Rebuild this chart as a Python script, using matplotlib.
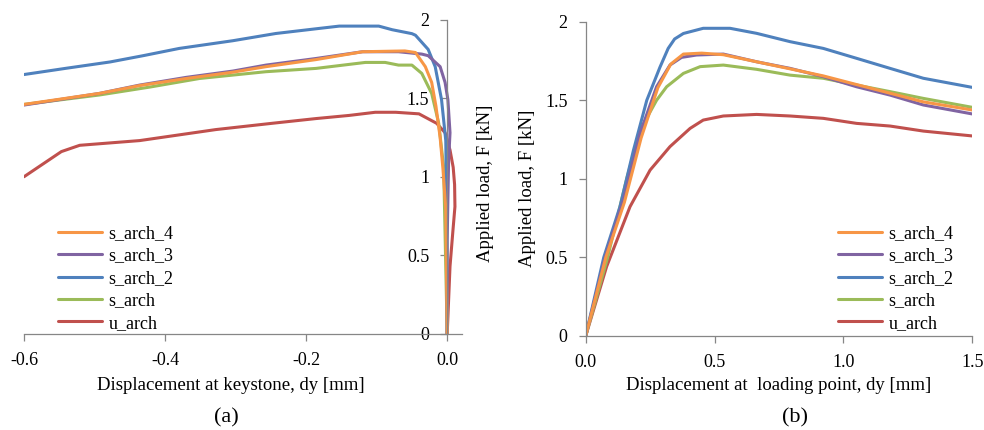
import numpy as np
import matplotlib
matplotlib.use('Agg')
import matplotlib.pyplot as plt

plt.rcParams['font.family'] = ['Liberation Serif', 'DejaVu Serif']

# ---- data: (a) displacement at keystone ----
names = ['s_arch_4', 's_arch_3', 's_arch_2', 's_arch', 'u_arch']
colors = ['#F79646', '#8064A2', '#4F81BD', '#9BBB59', '#C0504D']

a_x_s4 = [0, -0.002, -0.006, -0.01, -0.016, -0.022, -0.031, -0.045, -0.06, -0.12, -0.186, -0.257, -0.304, -0.37, -0.436, -0.493, -0.6]
a_y_s4 = [0, 0.8, 1.05, 1.25, 1.45, 1.60, 1.70, 1.79, 1.80, 1.795, 1.745, 1.70, 1.665, 1.625, 1.58, 1.53, 1.46]

a_x_s3 = [0, 0.0, 0.002, 0.004, 0.001, -0.003, -0.01, -0.027, -0.036, -0.069, -0.12, -0.186, -0.257, -0.304, -0.37, -0.436, -0.493, -0.6]
a_y_s3 = [0, 0.6, 1.1, 1.28, 1.49, 1.60, 1.70, 1.77, 1.78, 1.795, 1.795, 1.752, 1.71, 1.672, 1.632, 1.583, 1.53, 1.456]

a_x_s2 = [0, -0.001, -0.002, -0.008, -0.017, -0.027, -0.045, -0.05, -0.078, -0.097, -0.153, -0.182, -0.243, -0.304, -0.38, -0.431, -0.478, -0.54, -0.6]
a_y_s2 = [0, 0.9, 1.23, 1.49, 1.70, 1.81, 1.90, 1.91, 1.935, 1.958, 1.958, 1.943, 1.911, 1.865, 1.816, 1.77, 1.73, 1.69, 1.65]

a_x_s1 = [0, -0.003, -0.005, -0.012, -0.022, -0.036, -0.05, -0.069, -0.088, -0.116, -0.186, -0.257, -0.351, -0.422, -0.493, -0.6]
a_y_s1 = [0, 0.64, 1.06, 1.34, 1.53, 1.657, 1.71, 1.71, 1.727, 1.727, 1.689, 1.668, 1.625, 1.57, 1.52, 1.46]

a_x_u = [0, 0.004, 0.008, 0.011, 0.0105, 0.0085, 0.004, -0.003, -0.015, -0.04, -0.073, -0.102, -0.139, -0.186, -0.248, -0.328, -0.436, -0.521, -0.547, -0.6]
a_y_u = [0, 0.43, 0.65, 0.81, 0.95, 1.06, 1.17, 1.28, 1.34, 1.40, 1.41, 1.41, 1.39, 1.37, 1.34, 1.30, 1.23, 1.20, 1.16, 1.00]

# ---- data: (b) displacement at loading point ----
b_x_s4 = [0, 0.078, 0.15, 0.215, 0.28, 0.33, 0.379, 0.45, 0.534, 0.663, 0.793, 0.922, 1.051, 1.181, 1.31, 1.5]
b_y_s4 = [0, 0.5, 0.85, 1.26, 1.58, 1.73, 1.794, 1.80, 1.79, 1.745, 1.70, 1.655, 1.60, 1.545, 1.49, 1.438]

b_x_s3 = [0, 0.075, 0.146, 0.211, 0.275, 0.327, 0.372, 0.43, 0.534, 0.663, 0.793, 0.922, 1.051, 1.181, 1.31, 1.5]
b_y_s3 = [0, 0.5, 0.865, 1.29, 1.586, 1.724, 1.773, 1.788, 1.794, 1.745, 1.703, 1.65, 1.586, 1.533, 1.47, 1.413]

b_x_s2 = [0, 0.07, 0.133, 0.185, 0.237, 0.288, 0.32, 0.345, 0.379, 0.456, 0.56, 0.663, 0.793, 0.922, 1.051, 1.181, 1.31, 1.5]
b_y_s2 = [0, 0.5, 0.823, 1.18, 1.50, 1.71, 1.83, 1.89, 1.925, 1.958, 1.958, 1.926, 1.873, 1.83, 1.767, 1.703, 1.64, 1.582]

b_x_s1 = [0, 0.085, 0.159, 0.211, 0.275, 0.314, 0.379, 0.444, 0.534, 0.663, 0.793, 0.922, 1.051, 1.181, 1.31, 1.5]
b_y_s1 = [0, 0.5, 1.0, 1.31, 1.5, 1.586, 1.671, 1.714, 1.724, 1.697, 1.66, 1.64, 1.597, 1.555, 1.512, 1.455]

b_x_u = [0, 0.081, 0.172, 0.25, 0.327, 0.405, 0.456, 0.534, 0.663, 0.793, 0.922, 1.051, 1.181, 1.31, 1.5]
b_y_u = [0, 0.441, 0.823, 1.056, 1.205, 1.321, 1.374, 1.40, 1.41, 1.40, 1.385, 1.353, 1.336, 1.304, 1.273]

a_series = [(a_x_s4, a_y_s4), (a_x_s3, a_y_s3), (a_x_s2, a_y_s2), (a_x_s1, a_y_s1), (a_x_u, a_y_u)]
b_series = [(b_x_s4, b_y_s4), (b_x_s3, b_y_s3), (b_x_s2, b_y_s2), (b_x_s1, b_y_s1), (b_x_u, b_y_u)]

y_ticks = [0, 0.5, 1, 1.5, 2]
y_labels = ['0', '0.5', '1', '1.5', '2']
a_xticks = [-0.6, -0.4, -0.2, 0.0]
a_xlabels = ['-0.6', '-0.4', '-0.2', '0.0']
b_xticks = [0.0, 0.5, 1.0, 1.5]
b_xlabels = ['0.0', '0.5', '1.0', '1.5']

W, H = 984, 430
fig = plt.figure(figsize=(W/100, H/100), dpi=100)

axa = fig.add_axes([24/W, (H-334)/H, 438/W, 314.5/H])
axb = fig.add_axes([585.7/W, (H-336)/H, 386.6/W, 314.3/H])

fs = 13
grey = '#868686'

for ax, series in ((axa, a_series), (axb, b_series)):
    # draw u_arch first so the stack matches Excel order
    for (x, y), nm, c in reversed(list(zip(series, names, colors))):
        ax.plot(x, y, color=c, lw=2.2, label=nm, solid_capstyle='round')
    ax.set_ylim(0, 2)
    ax.set_yticks(y_ticks)
    ax.set_yticklabels(y_labels)
    for s in ('top', 'right'):
        ax.spines[s].set_visible(False)
    for s in ('left', 'bottom'):
        ax.spines[s].set_color(grey)
        ax.spines[s].set_linewidth(0.9)
    ax.tick_params(axis='both', direction='out', length=5, width=0.9, color=grey,
                   labelsize=fs, pad=8)
    h, l = ax.get_legend_handles_labels()
    ax.legend(h[::-1], l[::-1], frameon=False, fontsize=fs, handlelength=2.45,
              handletextpad=0.35, labelspacing=0.3, borderpad=0, borderaxespad=0,
              loc='upper left',
              bbox_to_anchor=((58 if ax is axa else 838)/W, (H-225)/H),
              bbox_transform=fig.transFigure)

axa.set_xlim(-0.6, 0.021)
axa.set_xticks(a_xticks)
axa.set_xticklabels(a_xlabels)
axa.spines['left'].set_position(('data', 0))

axb.set_xlim(0, 1.5)
axb.set_xticks(b_xticks)
axb.set_xticklabels(b_xlabels)

fs_lab = 13.5
fig.text(231/W, 1-385/H, 'Displacement at keystone, dy [mm]', fontsize=fs_lab,
         ha='center', va='center')
fig.text(779/W, 1-385/H, 'Displacement at  loading point, dy [mm]', fontsize=fs_lab,
         ha='center', va='center')
fig.text(486/W, 1-183/H, 'Applied load, F [kN]', fontsize=fs_lab, rotation=90,
         ha='center', va='center')
fig.text(527/W, 1-188/H, 'Applied load, F [kN]', fontsize=fs_lab, rotation=90,
         ha='center', va='center')
fig.text(226/W, 1-418/H, '(a)', fontsize=16, ha='center', va='center')
fig.text(795/W, 1-418/H, '(b)', fontsize=16, ha='center', va='center')

fig.savefig('out.png', dpi=100)
